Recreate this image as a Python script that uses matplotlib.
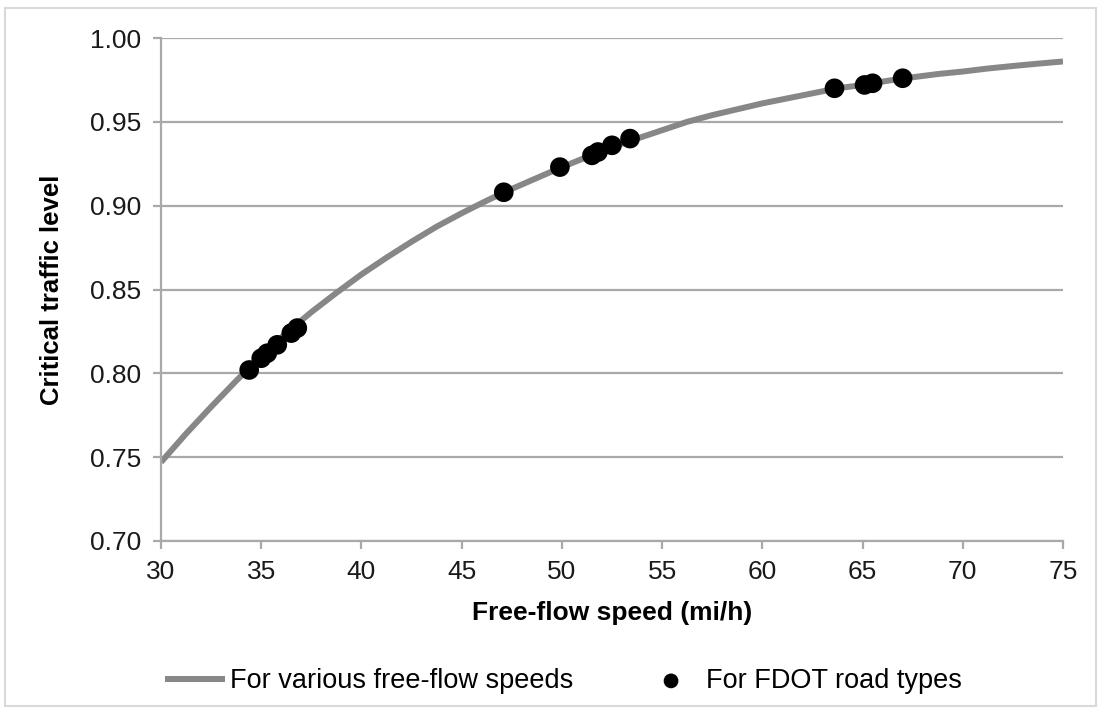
import matplotlib.pyplot as plt
from matplotlib.patches import Rectangle

plt.rcParams['font.family'] = ['Liberation Sans', 'DejaVu Sans']

# curve
speed = [30, 31.25, 32.5, 33.75, 35, 36.25, 37.5, 38.75, 40, 41.25, 42.5, 43.75,
         45, 46.25, 47.5, 48.75, 50, 51.25, 52.5, 53.75, 55, 56.25, 57.5, 58.75,
         60, 61.25, 62.5, 63.75, 65, 66.25, 67.5, 68.75, 70, 71.25, 72.5, 73.75, 75]
level = [0.747, 0.764, 0.780, 0.7955, 0.8105, 0.824, 0.8365, 0.848, 0.859, 0.869, 0.8785, 0.8875,
         0.8955, 0.903, 0.910, 0.9165, 0.923, 0.929, 0.935, 0.940, 0.945, 0.950, 0.954, 0.9575,
         0.961, 0.964, 0.967, 0.970, 0.972, 0.9745, 0.9766, 0.9785, 0.980, 0.9818, 0.9833, 0.9847, 0.986]

# FDOT road types
fdot_speed = [34.4, 35.0, 35.3, 35.8, 36.5, 36.8,
              47.1, 49.9, 51.5, 51.8, 52.5, 53.4,
              63.6, 65.1, 65.5, 67.0]
fdot_level = [0.802, 0.809, 0.812, 0.817, 0.824, 0.827,
              0.908, 0.923, 0.930, 0.932, 0.936, 0.940,
              0.970, 0.972, 0.973, 0.976]

xticks = [30, 35, 40, 45, 50, 55, 60, 65, 70, 75]
yticks = [0.70, 0.75, 0.80, 0.85, 0.90, 0.95, 1.00]

fig = plt.figure(figsize=(11.01, 7.14), dpi=100)
ax = fig.add_axes([161 / 1101, 173 / 714, 902 / 1101, 503 / 714])

# light border around the whole chart
fig.patches.append(Rectangle((5 / 1101, 8 / 714), 1091 / 1101, 698 / 714,
                             transform=fig.transFigure, fill=False,
                             edgecolor='#d9d9d9', linewidth=1.5))

grid_col = '#a9a9a9'
for yv in yticks:
    ax.axhline(yv, color=grid_col, linewidth=1.6, zorder=1)

ax.plot(speed, level, color='#878787', linewidth=4.3, zorder=2,
        label='For various free-flow speeds', solid_capstyle='butt')
ax.scatter(fdot_speed, fdot_level, s=200, color='black', zorder=3,
           label='For FDOT road types', edgecolors='none')

ax.set_xlim(30, 75)
ax.set_ylim(0.70, 1.00)
ax.set_xticks(xticks)
ax.set_yticks(yticks)
ax.set_xticklabels([str(v) for v in xticks])
ax.set_yticklabels(['%.2f' % v for v in yticks])

for s in ['top', 'right']:
    ax.spines[s].set_visible(False)
for s in ['left', 'bottom']:
    ax.spines[s].set_color(grid_col)
    ax.spines[s].set_linewidth(1.6)

ax.tick_params(axis='both', direction='out', length=6, width=1.6, color=grid_col,
               labelsize=19, labelcolor='#1a1a1a', pad=8)

ax.set_xlabel('Free-flow speed (mi/h)', fontsize=19, fontweight='bold', labelpad=12)
ax.set_ylabel('Critical traffic level', fontsize=18.5, fontweight='bold', labelpad=19)

leg = fig.legend(loc='center', bbox_to_anchor=(0.512, 1 - 681 / 714), ncol=2,
                 frameon=False, fontsize=19.5, handlelength=2.2, handletextpad=0.2,
                 columnspacing=2.5, markerscale=0.75)

fig.savefig('out.png', dpi=100)
